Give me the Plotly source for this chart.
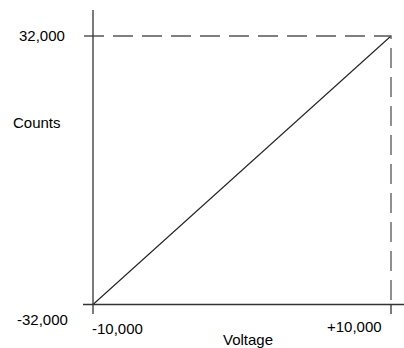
import plotly.graph_objects as go

# Data
voltage = [-10000, 10000]
counts = [-32000, 32000]
x_tick_labels = ["-10,000", "+10,000"]
y_tick_labels = ["-32,000", "32,000"]
x_title = "Voltage"
y_title = "Counts"

W, H = 404, 348
L, R, T, B = 80, 0, 5, 28
pw, ph = W - L - R, H - T - B

# axis ranges chosen so that the frame fits the layout
xr = [-10872.5, 10872.5]
yr = [-35695, 39389]

def sx(px):
    return xr[0] + (px - L) / pw * (xr[1] - xr[0])

def sy(py):
    return yr[1] - (py - T) / ph * (yr[1] - yr[0])

def pp(px, py):
    return (px - L) / pw, (H - B - py) / ph

axis_col = "#333333"
dash_col = "#555555"

fig = go.Figure()
# main line
fig.add_trace(go.Scatter(x=voltage, y=counts, mode="lines",
                         line=dict(color="#222222", width=1.1)))
# dashed guide lines
fig.add_trace(go.Scatter(x=[sx(84), voltage[1], voltage[1]],
                         y=[counts[1], counts[1], counts[0]], mode="lines",
                         line=dict(color=dash_col, width=1.3, dash="20px,9px")))
# axes
fig.add_trace(go.Scatter(x=[voltage[0], voltage[0]], y=[sy(10), sy(314)], mode="lines",
                         line=dict(color=axis_col, width=1.3)))
fig.add_trace(go.Scatter(x=[sx(83), sx(404)], y=[counts[0], counts[0]], mode="lines",
                         line=dict(color=axis_col, width=1.3)))
fig.add_trace(go.Scatter(x=[voltage[1], voltage[1]], y=[counts[0], sy(314)], mode="lines",
                         line=dict(color=axis_col, width=1.3)))

font = dict(family="Liberation Sans, Arial, sans-serif", size=15, color="#000000")
labels = [
    (y_tick_labels[1], 41.5, 35),
    (y_title, 37, 122),
    (y_tick_labels[0], 42.5, 319),
    (x_tick_labels[0], 117.5, 328),
    (x_tick_labels[1], 354.5, 326),
    (x_title, 248, 339),
]
for txt, px, py in labels:
    ax, ay = pp(px, py)
    fig.add_annotation(text=txt, x=ax, y=ay, xref="paper", yref="paper",
                       xanchor="center", yanchor="middle", showarrow=False, font=font)

fig.update_layout(
    width=W, height=H, margin=dict(l=L, r=R, t=T, b=B),
    paper_bgcolor="white", plot_bgcolor="white", showlegend=False,
    xaxis=dict(range=xr, visible=False, fixedrange=True),
    yaxis=dict(range=yr, visible=False, fixedrange=True),
)
fig.write_html("out.html", config={"displayModeBar": False},
               post_script="document.body.style.margin='0';document.body.style.overflow='hidden';")
